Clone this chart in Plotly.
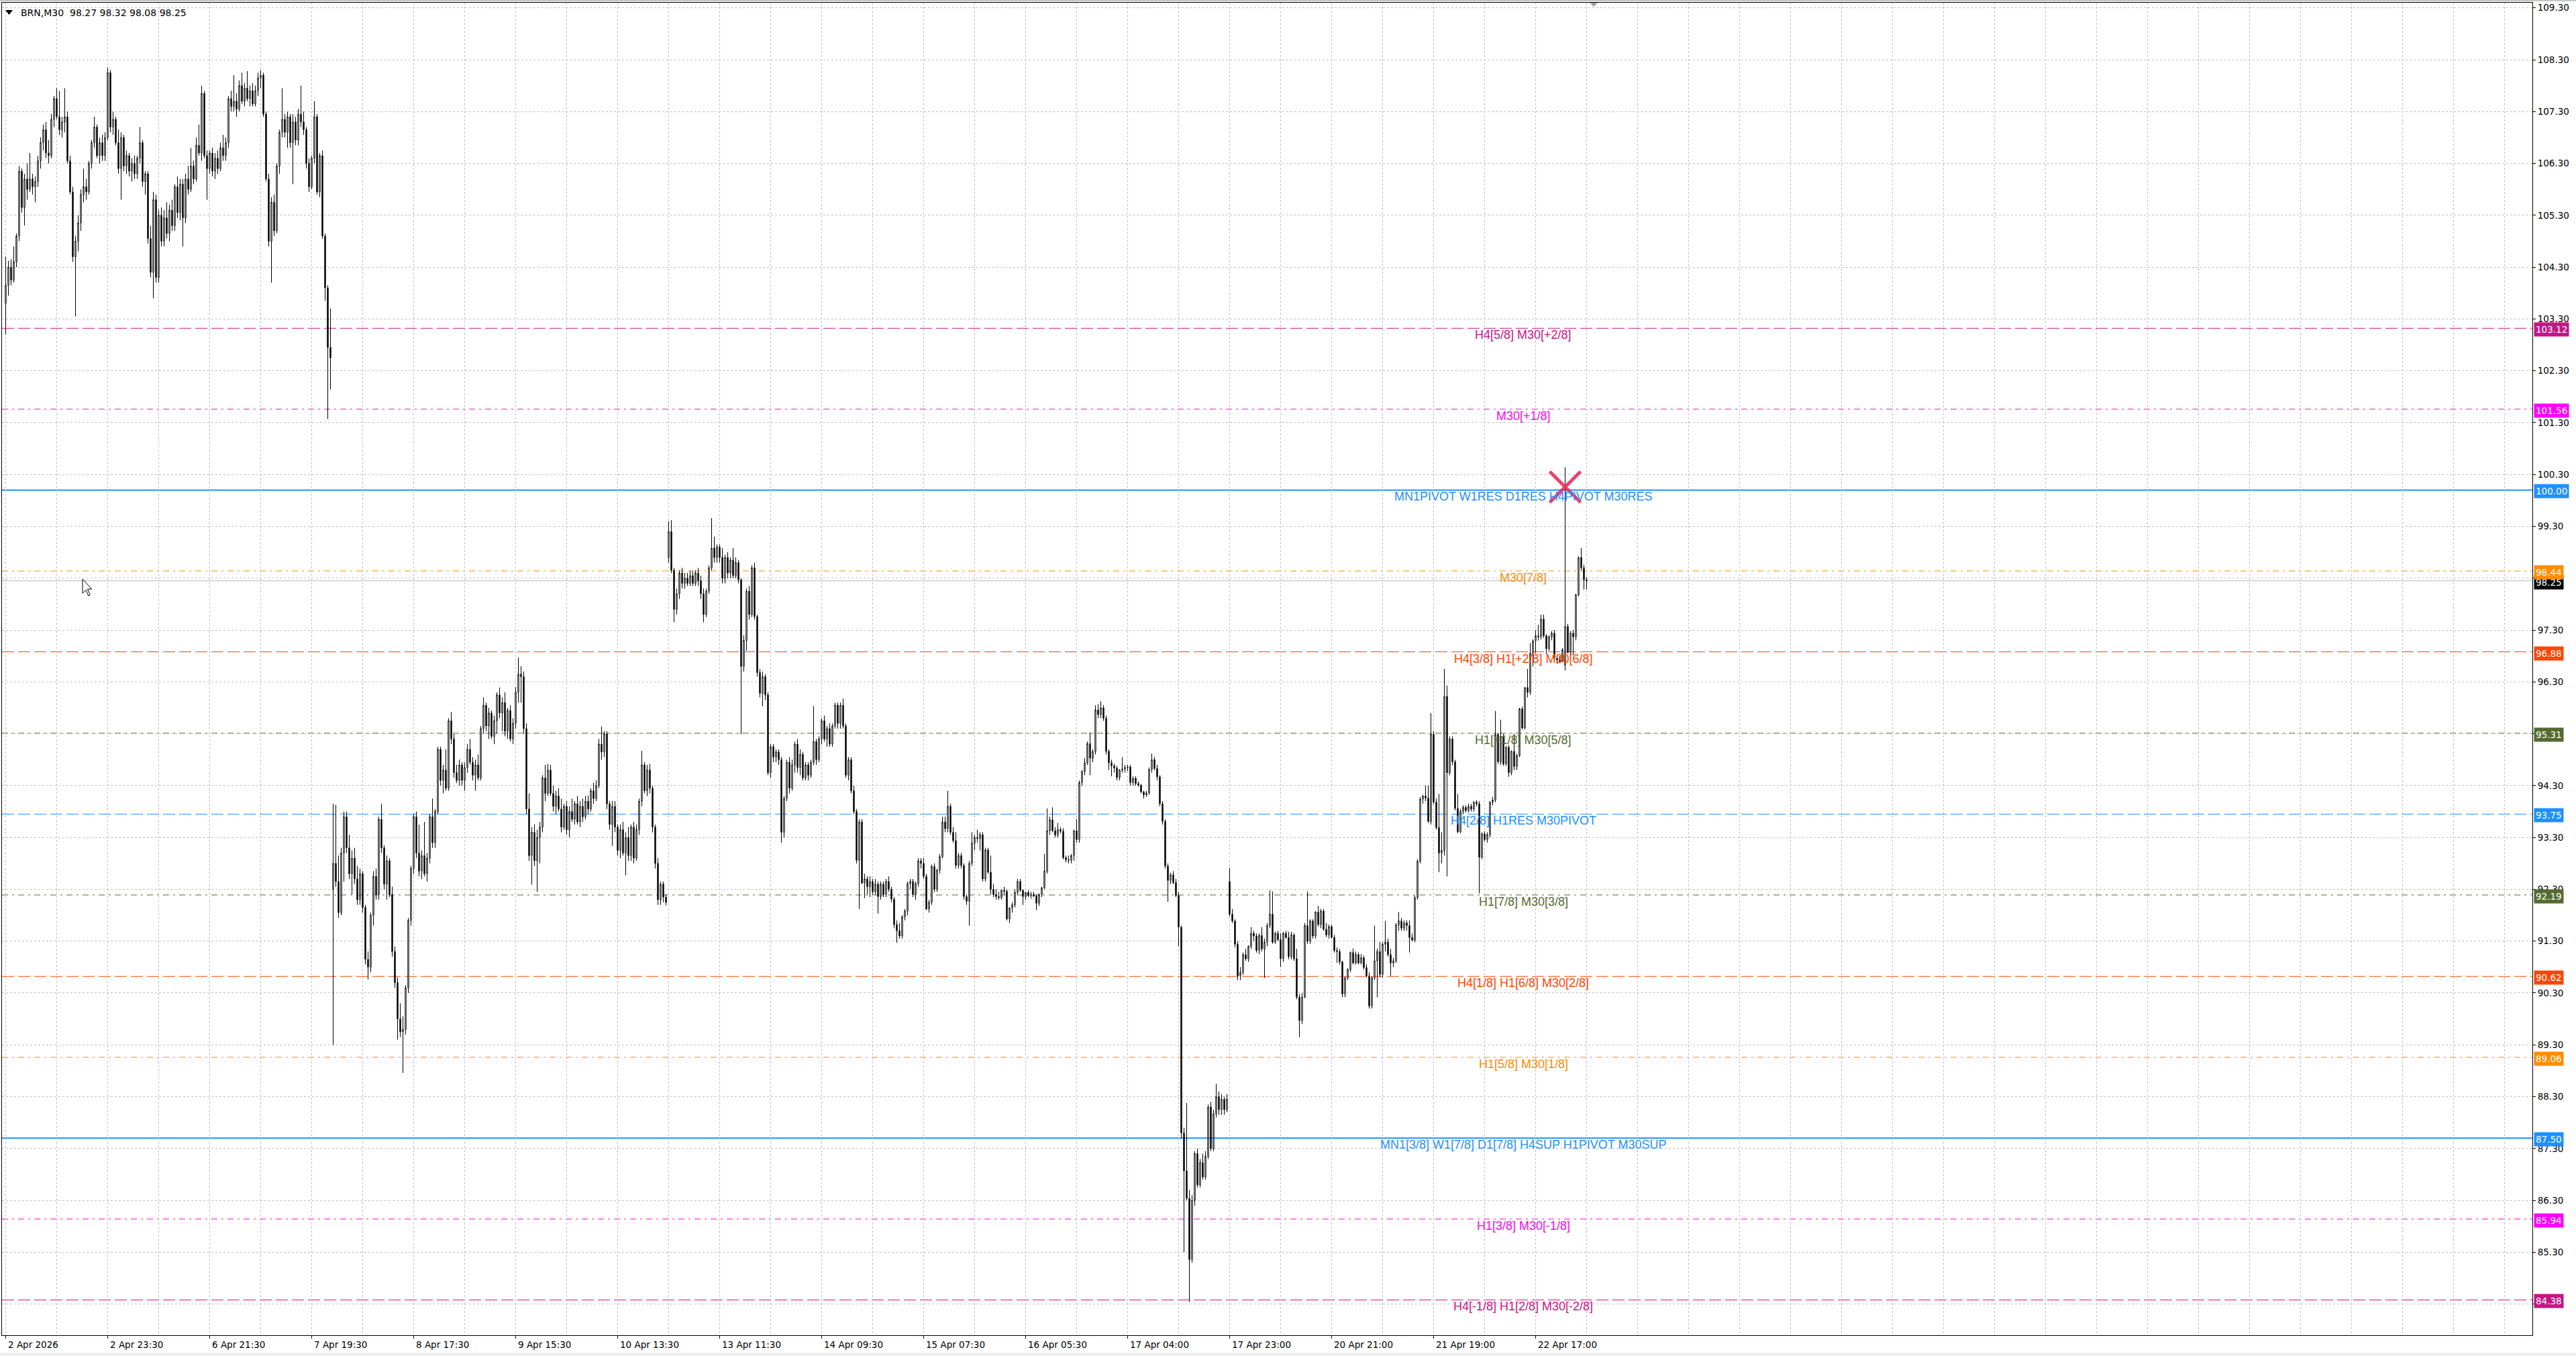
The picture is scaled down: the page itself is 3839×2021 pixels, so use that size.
import plotly.graph_objects as go

# ---------------------------------------------------------------- data
# BRN M30 candles, one entry per bar (MT4 draws bars back to back, no time gaps)
OPEN = [
    # 0
    103.60, 103.95, 104.30, 104.05, 104.40, 104.90, 106.15, 105.45, 106.00, 105.80,
    106.00, 105.85, 105.95, 106.35, 106.70, 106.95, 106.50, 106.45, 107.15, 107.55,
    107.20, 106.95, 107.10, 107.20, 106.35, 105.75, 104.50, 104.80, 105.15, 105.70,
    105.85, 105.75, 106.30, 106.70, 107.00, 106.45, 106.70, 106.45, 106.80, 108.05,
    107.00, 107.15, 106.70, 106.20, 106.80, 106.25, 106.45, 106.15, 106.30, 106.10,
    106.40, 106.70, 105.95, 106.10, 104.85, 104.20, 105.60, 104.10, 105.30, 104.80,
    105.25, 104.95, 105.40, 105.10, 105.85, 105.35, 105.90, 105.25, 106.00, 105.80,
    106.25, 106.00, 106.65, 106.50, 107.65, 106.45, 106.20, 106.50, 106.15, 106.40,
    106.20, 106.60, 106.45, 106.70, 107.55, 107.40, 107.50, 107.35, 107.80, 107.50,
    107.75, 107.55, 107.70, 107.45, 107.70, 107.95, 108.00, 107.25, 106.00, 104.80,
    105.55, 105.00, 106.25, 106.90, 107.15, 106.90, 107.20, 106.70, 107.10, 106.75,
    107.25, 107.10, 106.95, 106.30, 105.85, 106.40, 107.20, 105.75, 106.45, 104.90,
    103.90, 102.75,
    # 122
    92.30, 92.80, 92.45, 91.85, 93.00, 93.70, 93.10, 92.60,
    92.90, 92.50, 92.10, 92.60, 91.95, 90.95, 90.80, 91.80, 92.55, 92.20,
    93.65, 93.10, 92.40, 92.85, 92.20, 91.10, 90.50, 89.80, 89.55, 89.60,
    90.40, 91.70, 92.70, 93.70, 93.00, 92.65, 92.95, 92.60, 92.90, 93.70,
    93.20, 93.80, 95.00, 94.40, 94.60, 94.25, 95.55, 95.20, 94.55, 94.40,
    94.70, 94.40, 94.65, 95.00, 94.75, 94.50, 94.70, 94.45, 95.40, 95.85,
    95.45, 95.70, 95.25, 95.55, 96.05, 95.70, 95.90, 95.35, 95.75, 95.20,
    95.50, 96.10, 96.45, 96.40, 95.40, 93.85, 92.95, 93.40, 92.85, 93.30,
    93.50, 94.45, 94.15, 94.60, 94.15, 93.90, 94.10, 93.85, 93.50, 93.90,
    93.45, 93.80, 93.65, 93.95, 93.60, 93.90, 93.70, 94.00, 93.85, 94.20,
    94.05, 94.30, 95.10, 94.95, 95.30, 93.95, 93.55, 93.90, 93.50, 93.05,
    93.45, 93.00, 93.30, 92.95, 93.50, 92.90, 93.45, 94.00, 94.70, 94.20,
    94.60, 94.25, 93.50, 92.80, 92.10, 92.40, 92.15,
    # 247
    98.70, 99.20, 98.45,
    97.70, 98.00, 98.40, 98.20, 98.30, 98.20, 98.35, 98.20, 98.40, 98.25,
    98.00, 97.60, 98.05, 98.50, 98.88, 98.70, 98.90, 98.70, 98.30, 98.70,
    98.40, 98.65, 98.35, 98.60, 98.27, 96.60, 97.10, 98.05, 97.60, 98.50,
    97.56, 96.48, 96.08, 96.40, 96.05, 94.55, 95.05, 94.85, 94.95, 94.80,
    93.40, 94.05, 94.75, 94.25, 94.70, 95.10, 94.65, 94.90, 94.45, 94.70,
    94.50, 94.75, 95.15, 94.80, 95.20, 95.55, 95.20, 95.40, 95.10, 95.45,
    95.85, 95.50, 95.85, 95.45, 94.50, 94.80, 94.20, 93.80, 92.86, 93.60,
    92.42, 92.50, 92.35, 92.45, 92.25, 92.40, 92.16, 92.40, 92.20, 92.45,
    92.30, 92.11, 91.62, 91.50, 91.40, 91.77, 91.88, 92.41, 92.45, 92.20,
    92.41, 92.85, 92.80, 92.55, 91.92, 92.05, 92.74, 92.30, 92.67, 92.93,
    93.60, 93.47, 93.90, 93.40, 93.24, 92.76, 92.95, 92.76, 92.16, 92.07,
    92.80, 93.19, 93.30, 93.28, 93.35, 92.50, 93.06, 92.63, 92.30, 92.20,
    92.16, 92.14, 92.28, 92.26, 91.73, 91.94, 92.00, 92.24, 92.45, 92.28,
    92.16, 92.24, 92.18, 92.20, 92.17, 92.03, 92.20, 92.33, 92.65, 93.43,
    93.64, 93.43, 93.35, 93.45, 93.42, 92.91, 92.87, 92.86, 92.95, 93.43,
    93.26, 94.36, 94.57, 94.74, 95.11, 94.83, 94.96, 95.76, 95.67, 95.80,
    95.60, 94.96, 94.74, 94.68, 94.64, 94.46, 94.60, 94.62, 94.65, 94.66,
    94.36, 94.44, 94.34, 94.31, 94.18, 94.12, 94.16, 94.61, 94.80, 94.63,
    94.47, 93.95, 93.61, 92.75, 92.47, 92.58, 92.43, 92.18, 91.57, 87.60,
    86.87, 86.34, 85.16, 86.30, 87.20, 86.60, 87.03, 86.75, 87.15, 88.10,
    87.30, 87.97, 88.30, 88.05, 88.25, 88.05,
    # 456
    92.45, 91.82, 91.69, 91.24,
    90.63, 90.70, 91.04, 90.96, 91.20, 91.45, 91.40, 91.12, 91.41, 91.15,
    91.28, 91.60, 91.82, 91.28, 91.45, 91.33, 90.96, 91.45, 91.37, 91.00,
    91.42, 90.96, 90.22, 89.77, 90.22, 91.60, 91.30, 91.69, 91.40, 91.86,
    91.62, 91.88, 91.53, 91.42, 91.58, 91.37, 91.12, 91.10, 90.90, 90.28,
    90.59, 90.75, 91.08, 90.88, 91.04, 90.88, 90.98, 90.79, 90.63, 90.05,
    90.59, 90.92, 91.10, 90.66, 91.24, 91.28, 91.04, 90.88, 90.92, 91.61,
    91.69, 91.55, 91.65, 91.60, 91.37, 91.32, 92.14, 92.84, 94.04, 94.10,
    94.06, 93.61, 95.29, 93.98, 93.49, 93.00, 93.05, 96.02, 94.55, 95.20,
    94.76, 93.86, 93.41, 93.80, 93.88, 93.82, 93.90, 93.85, 93.98, 93.95,
    92.92, 93.37, 93.26, 93.35, 93.98, 94.02, 95.29, 94.76, 95.25, 94.72,
    95.04, 94.55, 94.96, 94.67, 94.88, 95.78, 95.41, 96.19, 96.10, 96.85,
    97.09, 97.19, 97.17, 97.51, 97.19, 96.94, 97.17, 97.24, 96.75, 96.72,
    96.70, 96.62, 97.37, 96.87, 97.24, 97.17, 97.98, 98.70, 98.50, 98.27,
]

HIGH = [
    # 0
    104.50, 104.42, 104.45, 104.70, 104.95, 106.25, 106.20, 106.10, 106.30, 106.50,
    106.10, 106.05, 106.45, 106.80, 107.05, 107.10, 106.75, 107.25, 107.60, 107.75,
    107.70, 107.20, 107.75, 107.30, 106.45, 105.85, 104.90, 105.30, 105.80, 106.20,
    106.00, 106.35, 106.75, 107.20, 107.05, 106.80, 106.85, 106.90, 108.15, 108.10,
    107.30, 107.20, 106.95, 106.90, 106.85, 106.55, 106.50, 106.40, 106.45, 106.45,
    107.00, 106.75, 106.15, 106.15, 105.10, 105.75, 105.70, 105.40, 105.45, 105.40,
    105.55, 105.50, 105.60, 105.90, 106.05, 106.00, 106.00, 106.10, 106.25, 106.60,
    106.35, 106.80, 107.05, 107.80, 107.70, 106.55, 106.55, 106.60, 106.50, 106.55,
    106.70, 106.85, 106.80, 107.60, 107.70, 108.00, 107.65, 107.90, 108.05, 107.85,
    108.08, 107.80, 107.85, 107.80, 108.05, 108.10, 108.05, 107.30, 106.10, 105.65,
    105.70, 106.30, 106.95, 107.75, 107.25, 107.30, 107.25, 107.25, 107.20, 107.35,
    107.80, 107.30, 107.00, 106.40, 106.45, 107.50, 107.25, 106.50, 106.55, 104.95,
    103.95, 103.50,
    # 122
    93.95, 93.93, 92.95, 93.10, 93.80, 93.80, 93.35, 93.05,
    93.10, 92.75, 92.70, 92.65, 92.00, 91.10, 91.85, 92.65, 92.70, 93.70,
    93.95, 93.15, 92.95, 92.90, 92.35, 91.20, 90.60, 90.10, 89.85, 90.45,
    91.75, 92.75, 93.75, 93.80, 93.55, 93.05, 93.60, 93.00, 93.75, 94.05,
    93.85, 95.05, 95.05, 94.70, 95.00, 95.60, 95.72, 95.30, 94.70, 94.80,
    94.75, 94.75, 95.10, 95.20, 94.85, 94.80, 94.90, 95.45, 96.00, 95.90,
    95.80, 95.75, 95.65, 96.10, 96.19, 96.00, 96.10, 95.80, 95.85, 95.60,
    96.20, 96.77, 96.60, 96.50, 95.50, 94.15, 93.50, 93.55, 93.45, 93.60,
    94.50, 94.70, 94.72, 94.70, 94.30, 94.20, 94.25, 94.05, 93.95, 94.00,
    93.90, 94.05, 94.00, 94.10, 94.00, 94.05, 94.10, 94.11, 94.25, 94.35,
    94.40, 95.20, 95.44, 95.35, 95.35, 94.00, 94.00, 94.00, 93.55, 93.55,
    93.60, 93.40, 93.50, 93.55, 93.60, 93.55, 94.05, 94.97, 94.75, 94.70,
    94.72, 94.30, 93.55, 92.90, 92.45, 92.45, 92.20,
    # 247
    99.40, 99.42, 98.50,
    98.10, 98.45, 98.50, 98.40, 98.40, 98.45, 98.45, 98.45, 98.50, 98.35,
    98.10, 98.10, 98.55, 99.46, 99.10, 98.95, 98.95, 98.88, 98.75, 98.80,
    98.70, 98.88, 98.70, 98.65, 98.30, 97.20, 98.10, 98.15, 98.55, 98.60,
    97.60, 96.55, 96.50, 96.45, 96.10, 95.10, 95.10, 95.00, 95.00, 94.85,
    94.10, 94.80, 94.85, 94.80, 95.15, 95.20, 95.00, 94.95, 94.75, 94.75,
    94.80, 95.83, 95.20, 95.25, 95.60, 95.65, 95.45, 95.50, 95.50, 95.90,
    95.90, 95.90, 95.98, 95.50, 94.85, 94.85, 94.30, 93.85, 93.65, 93.65,
    92.60, 92.55, 92.55, 92.50, 92.50, 92.45, 92.45, 92.45, 92.50, 92.55,
    92.35, 92.15, 91.70, 91.65, 91.80, 91.92, 92.45, 92.50, 92.50, 92.45,
    92.90, 92.90, 92.90, 92.60, 92.10, 92.78, 92.80, 92.70, 92.98, 93.70,
    93.70, 94.20, 93.95, 93.50, 93.40, 93.00, 93.00, 92.80, 92.20, 92.85,
    93.40, 93.35, 93.45, 93.40, 93.40, 93.10, 93.10, 92.95, 92.40, 92.30,
    92.25, 92.30, 92.35, 92.30, 91.95, 92.05, 92.30, 92.50, 92.50, 92.30,
    92.25, 92.28, 92.25, 92.25, 92.20, 92.22, 92.35, 92.98, 93.86, 93.70,
    93.88, 93.50, 93.58, 93.50, 93.48, 92.95, 92.95, 92.98, 93.45, 93.65,
    94.40, 94.60, 94.83, 95.15, 95.33, 95.00, 95.85, 95.87, 95.93, 95.85,
    95.65, 95.00, 94.80, 94.72, 94.68, 94.62, 94.85, 94.70, 94.70, 94.70,
    94.48, 94.48, 94.38, 94.33, 94.20, 94.20, 94.65, 94.92, 94.85, 94.70,
    94.50, 94.00, 93.65, 92.80, 92.62, 92.65, 92.50, 92.25, 91.60, 87.70,
    88.18, 86.50, 86.40, 87.25, 87.30, 87.10, 87.20, 87.25, 88.15, 88.20,
    88.05, 88.55, 88.40, 88.35, 88.30, 88.35,
    # 456
    92.71, 91.92, 91.72, 91.30,
    90.80, 91.08, 91.15, 91.22, 91.57, 91.50, 91.45, 91.45, 91.57, 91.35,
    91.65, 92.28, 92.26, 91.48, 91.50, 91.45, 91.48, 91.50, 91.48, 91.48,
    91.45, 91.15, 90.28, 90.30, 91.65, 92.26, 91.72, 91.72, 91.88, 91.98,
    91.92, 91.92, 91.65, 91.62, 91.62, 91.42, 91.18, 91.15, 90.92, 90.62,
    90.78, 91.10, 91.16, 91.10, 91.08, 91.05, 91.02, 90.85, 90.70, 90.62,
    91.60, 91.16, 91.28, 91.28, 91.69, 91.35, 91.15, 90.98, 91.65, 91.86,
    91.75, 91.70, 91.70, 91.70, 91.45, 92.18, 92.88, 94.08, 94.12, 94.30,
    94.30, 95.70, 95.35, 94.05, 94.14, 93.40, 96.55, 96.23, 95.25, 95.25,
    94.80, 94.14, 93.85, 93.92, 93.92, 93.95, 93.95, 94.00, 94.02, 94.00,
    93.40, 93.42, 93.40, 94.00, 94.08, 95.74, 95.32, 95.57, 95.30, 95.06,
    95.08, 94.98, 95.30, 94.92, 95.80, 95.82, 96.20, 96.55, 97.05, 97.12,
    97.30, 97.40, 97.60, 97.60, 97.22, 97.20, 97.28, 97.30, 96.80, 96.80,
    96.95, 100.44, 97.42, 97.28, 97.30, 98.00, 98.72, 98.88, 98.56, 98.32,
]

LOW = [
    # 0
    103.00, 103.75, 103.95, 104.00, 104.30, 104.80, 105.35, 105.10, 105.60, 105.75,
    105.70, 105.55, 105.85, 106.20, 106.55, 106.40, 106.30, 106.40, 107.00, 107.15,
    106.85, 106.80, 106.90, 106.30, 105.70, 104.40, 103.35, 104.60, 105.00, 105.55,
    105.60, 105.70, 106.20, 106.60, 106.40, 106.30, 106.35, 106.35, 106.75, 106.90,
    106.85, 106.65, 106.10, 105.60, 106.15, 106.10, 106.05, 105.95, 106.00, 106.00,
    106.30, 105.85, 105.70, 104.75, 104.10, 103.70, 104.00, 104.00, 104.70, 104.70,
    104.85, 104.80, 105.00, 105.00, 105.25, 105.20, 104.70, 105.15, 105.70, 105.75,
    105.90, 105.95, 106.45, 106.35, 106.40, 105.60, 106.10, 106.05, 106.00, 106.10,
    106.15, 106.35, 106.35, 106.60, 107.30, 107.30, 107.20, 107.30, 107.45, 107.40,
    107.50, 107.40, 107.40, 107.40, 107.60, 107.75, 107.20, 105.95, 104.70, 104.00,
    104.90, 104.95, 106.10, 106.80, 106.80, 106.60, 106.60, 105.90, 106.65, 106.65,
    107.00, 106.85, 106.20, 105.75, 105.80, 106.30, 105.70, 105.65, 104.85, 103.65,
    101.37, 101.94,
    # 122
    89.30, 92.35, 91.75, 91.80, 92.45, 93.00, 92.50, 92.20,
    92.40, 92.00, 92.00, 91.85, 90.85, 90.56, 90.70, 91.60, 92.10, 92.10,
    93.00, 92.30, 92.10, 92.15, 91.00, 90.40, 89.40, 89.45, 88.76, 89.50,
    90.30, 91.60, 92.60, 92.90, 92.55, 92.50, 92.55, 92.45, 92.80, 93.10,
    93.10, 93.75, 94.30, 94.15, 94.20, 94.20, 95.10, 94.45, 94.35, 94.30,
    94.30, 94.20, 94.55, 94.70, 94.40, 94.20, 94.40, 94.40, 95.30, 95.35,
    95.20, 95.20, 95.10, 95.30, 95.60, 95.35, 95.25, 95.20, 95.15, 95.10,
    95.40, 95.90, 95.90, 95.30, 93.75, 92.85, 92.39, 92.75, 92.25, 92.80,
    93.40, 94.00, 94.10, 94.10, 93.80, 93.75, 93.80, 93.40, 93.45, 93.35,
    93.30, 93.60, 93.55, 93.55, 93.50, 93.60, 93.65, 93.75, 93.80, 93.95,
    94.00, 94.25, 94.80, 94.85, 93.85, 93.45, 93.14, 93.40, 92.95, 92.90,
    92.95, 92.57, 92.85, 92.85, 92.80, 92.85, 93.35, 93.90, 94.15, 94.10,
    94.15, 93.40, 92.70, 92.00, 92.00, 92.05, 91.99,
    # 247
    98.60, 98.40, 97.45,
    97.60, 97.90, 98.10, 98.10, 98.15, 98.15, 98.15, 98.15, 98.15, 97.90,
    97.45, 97.55, 98.00, 98.45, 98.60, 98.60, 98.60, 98.20, 98.20, 98.30,
    98.30, 98.30, 98.30, 98.20, 95.29, 96.50, 96.90, 97.50, 97.55, 97.50,
    96.40, 96.00, 95.83, 95.95, 94.50, 94.45, 94.75, 94.75, 94.70, 93.20,
    93.30, 94.00, 94.15, 94.20, 94.55, 94.55, 94.50, 94.40, 94.40, 94.40,
    94.45, 94.70, 94.70, 94.75, 95.10, 95.15, 95.05, 95.05, 95.05, 95.40,
    95.40, 95.40, 95.40, 94.45, 94.40, 94.15, 93.75, 92.80, 91.92, 92.40,
    92.13, 92.20, 92.15, 92.20, 92.20, 91.83, 92.10, 92.15, 92.15, 92.25,
    92.05, 91.55, 91.27, 91.35, 91.35, 91.70, 91.80, 92.30, 92.15, 92.10,
    92.35, 92.70, 92.50, 91.90, 91.85, 92.00, 92.25, 92.25, 92.60, 92.90,
    93.40, 93.40, 93.35, 93.20, 92.70, 92.70, 92.70, 92.10, 92.00, 91.60,
    92.75, 93.05, 93.20, 93.05, 92.45, 92.45, 92.60, 92.20, 92.15, 92.10,
    92.10, 92.10, 92.20, 91.70, 91.65, 91.85, 91.95, 92.20, 92.25, 92.00,
    92.10, 92.15, 92.12, 92.15, 91.90, 91.98, 92.15, 92.30, 92.60, 93.35,
    93.40, 93.30, 93.30, 93.38, 92.88, 92.82, 92.80, 92.80, 92.85, 93.20,
    93.20, 94.30, 94.50, 94.70, 94.50, 94.75, 94.90, 95.60, 95.60, 95.55,
    94.90, 94.60, 94.48, 94.55, 94.40, 94.40, 94.55, 94.55, 94.58, 94.30,
    94.30, 94.30, 94.28, 94.15, 94.05, 94.08, 94.12, 94.55, 94.60, 94.40,
    93.90, 93.55, 92.70, 92.06, 92.40, 92.40, 92.15, 91.20, 87.50, 85.30,
    86.30, 84.34, 85.10, 86.20, 86.55, 86.55, 86.70, 86.70, 87.10, 87.25,
    87.25, 87.90, 87.95, 87.95, 87.95, 88.00,
    # 456
    91.78, 91.65, 91.18, 90.55,
    90.55, 90.65, 90.92, 90.90, 91.15, 91.30, 91.08, 91.05, 91.10, 90.59,
    91.20, 91.55, 91.25, 91.25, 91.30, 90.80, 90.90, 91.35, 90.95, 90.95,
    90.92, 90.18, 89.45, 89.70, 90.20, 91.25, 91.25, 91.35, 91.35, 91.58,
    91.55, 91.50, 91.38, 91.35, 91.35, 91.08, 90.88, 90.85, 90.22, 90.22,
    90.55, 90.70, 90.85, 90.85, 90.85, 90.85, 90.75, 90.60, 90.00, 90.00,
    90.55, 90.22, 90.60, 90.60, 91.10, 91.00, 90.63, 90.80, 90.88, 91.50,
    91.50, 91.50, 91.50, 91.08, 91.30, 91.28, 92.10, 92.80, 93.95, 94.00,
    93.58, 93.55, 93.95, 93.45, 92.63, 92.80, 92.95, 92.55, 94.50, 94.70,
    93.82, 93.38, 93.38, 93.75, 93.78, 93.78, 93.80, 93.80, 93.90, 92.22,
    92.88, 93.22, 93.20, 93.30, 93.92, 93.98, 94.72, 94.70, 94.68, 94.68,
    94.47, 94.50, 94.60, 94.60, 94.85, 95.38, 95.38, 96.00, 96.05, 96.60,
    96.85, 97.10, 97.12, 97.15, 96.84, 96.90, 97.10, 96.70, 96.65, 96.68,
    96.68, 96.52, 96.85, 96.82, 96.82, 97.10, 97.95, 98.45, 98.08, 98.08,
]

CLOSE = [
    # 0
    103.95, 104.30, 104.05, 104.40, 104.90, 106.15, 105.45, 106.00, 105.80, 106.00,
    105.85, 105.95, 106.35, 106.70, 106.95, 106.50, 106.45, 107.15, 107.55, 107.20,
    106.95, 107.10, 107.20, 106.35, 105.75, 104.50, 104.80, 105.15, 105.70, 105.85,
    105.75, 106.30, 106.70, 107.00, 106.45, 106.70, 106.45, 106.80, 108.05, 107.00,
    107.15, 106.70, 106.20, 106.80, 106.25, 106.45, 106.15, 106.30, 106.10, 106.40,
    106.70, 105.95, 106.10, 104.85, 104.20, 105.60, 104.10, 105.30, 104.80, 105.25,
    104.95, 105.40, 105.10, 105.85, 105.35, 105.90, 105.25, 106.00, 105.80, 106.25,
    106.00, 106.65, 106.50, 107.65, 106.45, 106.20, 106.50, 106.15, 106.40, 106.20,
    106.60, 106.45, 106.70, 107.55, 107.40, 107.50, 107.35, 107.80, 107.50, 107.75,
    107.55, 107.70, 107.45, 107.70, 107.95, 108.00, 107.25, 106.00, 104.80, 105.55,
    105.00, 106.25, 106.90, 107.15, 106.90, 107.20, 106.70, 107.10, 106.75, 107.25,
    107.10, 106.95, 106.30, 105.85, 106.40, 107.20, 105.75, 106.45, 104.90, 103.90,
    102.75, 102.55,
    # 122
    92.80, 92.45, 91.85, 93.00, 93.70, 93.10, 92.60, 92.90,
    92.50, 92.10, 92.60, 91.95, 90.95, 90.80, 91.80, 92.55, 92.20, 93.65,
    93.10, 92.40, 92.85, 92.20, 91.10, 90.50, 89.80, 89.55, 89.60, 90.40,
    91.70, 92.70, 93.70, 93.00, 92.65, 92.95, 92.60, 92.90, 93.70, 93.20,
    93.80, 95.00, 94.40, 94.60, 94.25, 95.55, 95.20, 94.55, 94.40, 94.70,
    94.40, 94.65, 95.00, 94.75, 94.50, 94.70, 94.45, 95.40, 95.85, 95.45,
    95.70, 95.25, 95.55, 96.05, 95.70, 95.90, 95.35, 95.75, 95.20, 95.50,
    96.10, 96.45, 96.40, 95.40, 93.85, 92.95, 93.40, 92.85, 93.30, 93.50,
    94.45, 94.15, 94.60, 94.15, 93.90, 94.10, 93.85, 93.50, 93.90, 93.45,
    93.80, 93.65, 93.95, 93.60, 93.90, 93.70, 94.00, 93.85, 94.20, 94.05,
    94.30, 95.10, 94.95, 95.30, 93.95, 93.55, 93.90, 93.50, 93.05, 93.45,
    93.00, 93.30, 92.95, 93.50, 92.90, 93.45, 94.00, 94.70, 94.20, 94.60,
    94.25, 93.50, 92.80, 92.10, 92.40, 92.15, 92.05,
    # 247
    99.20, 98.45, 97.70,
    98.00, 98.40, 98.20, 98.30, 98.20, 98.35, 98.20, 98.40, 98.25, 98.00,
    97.60, 98.05, 98.50, 98.88, 98.70, 98.90, 98.70, 98.30, 98.70, 98.40,
    98.65, 98.35, 98.60, 98.27, 96.60, 97.10, 98.05, 97.60, 98.50, 97.56,
    96.48, 96.08, 96.40, 96.05, 94.55, 95.05, 94.85, 94.95, 94.80, 93.40,
    94.05, 94.75, 94.25, 94.70, 95.10, 94.65, 94.90, 94.45, 94.70, 94.50,
    94.75, 95.15, 94.80, 95.20, 95.55, 95.20, 95.40, 95.10, 95.45, 95.85,
    95.50, 95.85, 95.45, 94.50, 94.80, 94.20, 93.80, 92.86, 93.60, 92.42,
    92.50, 92.35, 92.45, 92.25, 92.40, 92.16, 92.40, 92.20, 92.45, 92.30,
    92.11, 91.62, 91.50, 91.40, 91.77, 91.88, 92.41, 92.45, 92.20, 92.41,
    92.85, 92.80, 92.55, 91.92, 92.05, 92.74, 92.30, 92.67, 92.93, 93.60,
    93.47, 93.90, 93.40, 93.24, 92.76, 92.95, 92.76, 92.16, 92.07, 92.80,
    93.19, 93.30, 93.28, 93.35, 92.50, 93.06, 92.63, 92.30, 92.20, 92.16,
    92.14, 92.28, 92.26, 91.73, 91.94, 92.00, 92.24, 92.45, 92.28, 92.16,
    92.24, 92.18, 92.20, 92.17, 92.03, 92.20, 92.33, 92.65, 93.43, 93.64,
    93.43, 93.35, 93.45, 93.42, 92.91, 92.87, 92.86, 92.95, 93.43, 93.26,
    94.36, 94.57, 94.74, 95.11, 94.83, 94.96, 95.76, 95.67, 95.80, 95.60,
    94.96, 94.74, 94.68, 94.64, 94.46, 94.60, 94.62, 94.65, 94.66, 94.36,
    94.44, 94.34, 94.31, 94.18, 94.12, 94.16, 94.61, 94.80, 94.63, 94.47,
    93.95, 93.61, 92.75, 92.47, 92.58, 92.43, 92.18, 91.57, 87.60, 86.87,
    86.34, 85.16, 86.30, 87.20, 86.60, 87.03, 86.75, 87.15, 88.10, 87.30,
    87.97, 88.30, 88.05, 88.25, 88.05, 88.25,
    # 456
    91.82, 91.69, 91.24, 90.63,
    90.70, 91.04, 90.96, 91.20, 91.45, 91.40, 91.12, 91.41, 91.15, 91.28,
    91.60, 91.82, 91.28, 91.45, 91.33, 90.96, 91.45, 91.37, 91.00, 91.42,
    90.96, 90.22, 89.77, 90.22, 91.60, 91.30, 91.69, 91.40, 91.86, 91.62,
    91.88, 91.53, 91.42, 91.58, 91.37, 91.12, 91.10, 90.90, 90.28, 90.59,
    90.75, 91.08, 90.88, 91.04, 90.88, 90.98, 90.79, 90.63, 90.05, 90.59,
    90.92, 91.10, 90.66, 91.24, 91.28, 91.04, 90.88, 90.92, 91.61, 91.69,
    91.55, 91.65, 91.60, 91.37, 91.32, 92.14, 92.84, 94.04, 94.10, 94.06,
    93.61, 95.29, 93.98, 93.49, 93.00, 93.05, 96.02, 94.55, 95.20, 94.76,
    93.86, 93.41, 93.80, 93.88, 93.82, 93.90, 93.85, 93.98, 93.95, 92.92,
    93.37, 93.26, 93.35, 93.98, 94.02, 95.29, 94.76, 95.25, 94.72, 95.04,
    94.55, 94.96, 94.67, 94.88, 95.78, 95.41, 96.19, 96.10, 96.85, 97.09,
    97.19, 97.17, 97.51, 97.19, 96.94, 97.17, 97.24, 96.75, 96.72, 96.70,
    96.92, 97.37, 96.87, 97.24, 97.17, 97.98, 98.70, 98.50, 98.27, 98.25,
]

assert len(OPEN) == len(HIGH) == len(LOW) == len(CLOSE) == 590
BAR = list(range(len(CLOSE)))

# time scale labels and the bar they sit on
TIME_LABELS = ["2 Apr 2026", "2 Apr 23:30", "6 Apr 21:30", "7 Apr 19:30",
               "8 Apr 17:30", "9 Apr 15:30", "10 Apr 13:30", "13 Apr 11:30",
               "14 Apr 09:30", "15 Apr 07:30", "16 Apr 05:30", "17 Apr 04:00",
               "17 Apr 23:00", "20 Apr 21:00", "21 Apr 19:00", "22 Apr 17:00"]
TIME_LABEL_BAR = [0, 38, 76, 114, 152, 190, 228, 266,
                  304, 342, 380, 418, 456, 494, 532, 570]

# murrey / pivot levels drawn by the indicator
LEVEL_PRICE = [103.12, 101.56, 100.00, 98.44, 96.88, 95.31, 93.75,
               92.19, 90.62, 89.06, 87.50, 85.94, 84.38]
LEVEL_TEXT = ["H4[5/8] M30[+2/8]",
              "M30[+1/8]",
              "MN1PIVOT W1RES D1RES H4PIVOT M30RES",
              "M30[7/8]",
              "H4[3/8] H1[+2/8] M30[6/8]",
              "H1[+1/8] M30[5/8]",
              "H4[2/8] H1RES M30PIVOT",
              "H1[7/8] M30[3/8]",
              "H4[1/8] H1[6/8] M30[2/8]",
              "H1[5/8] M30[1/8]",
              "MN1[3/8] W1[7/8] D1[7/8] H4SUP H1PIVOT M30SUP",
              "H1[3/8] M30[-1/8]",
              "H4[-1/8] H1[2/8] M30[-2/8]"]

LAST_PRICE = 98.25
SYMBOL_INFO = "BRN,M30  98.27 98.32 98.08 98.25"
MARK_BAR = 581
MARK_PRICE = 100.06

# ---------------------------------------------------------------- style
VIOLET, MAGENTA, BLUE = "#C71585", "#FF00FF", "#1E90FF"
ORANGE, REDORANGE, OLIVE = "#FF8C00", "#FF4500", "#556B2F"
DASH, DASHDOT = "18px,6px", "9px,6px,3px,6px"
LEVEL_STYLE = [(VIOLET, DASH, 1), (MAGENTA, DASHDOT, 1), (BLUE, "solid", 2),
               (ORANGE, DASHDOT, 1), (REDORANGE, DASH, 1), (OLIVE, DASHDOT, 1),
               (BLUE, DASH, 1), (OLIVE, DASHDOT, 1), (REDORANGE, DASH, 1),
               (ORANGE, DASHDOT, 1), (BLUE, "solid", 2), (MAGENTA, DASHDOT, 1),
               (VIOLET, DASH, 1)]

AXFONT = "DejaVu Sans"
TXFONT = "Liberation Sans, Arial, sans-serif"
GRID = "#C0C0C0"

W, H = 3839, 2021
ML, MR, MT, MB = 3, 65, 4, 31
PW, PH = W - ML - MR, H - MT - MB
# 4 px per bar, bar centres on half pixels so 1px wicks stay crisp
PX_PER_BAR = 4
X0 = -1.375
X1 = X0 + PW / PX_PER_BAR
Y0, Y1 = 83.70, 109.40
LABEL_PX = 2270          # figure x where the level captions are centred


def paper(x, y):
    """figure pixel -> paper coords"""
    return (x - ML) / PW, (H - MB - y) / PH


def poly(points):
    pts = [paper(x, y) for x, y in points]
    return "M " + " L ".join(f"{a:.6f},{b:.6f}" for a, b in pts) + " Z"


fig = go.Figure()

fig.add_trace(go.Candlestick(
    x=BAR, open=OPEN, high=HIGH, low=LOW, close=CLOSE,
    increasing=dict(line=dict(color="black", width=1), fillcolor="white"),
    decreasing=dict(line=dict(color="black", width=1), fillcolor="black"),
    whiskerwidth=0, showlegend=False, hoverinfo="skip",
))

# the red cross object on the spike bar
fig.add_trace(go.Scatter(
    x=[MARK_BAR], y=[MARK_PRICE], mode="markers", showlegend=False, hoverinfo="skip",
    marker=dict(symbol="x-thin", size=46,
                line=dict(width=5, color="rgba(232,40,90,0.88)")),
))

shapes = []
# current price line
shapes.append(dict(type="line", xref="paper", x0=0, x1=1, yref="y",
                   y0=LAST_PRICE, y1=LAST_PRICE, layer="below",
                   line=dict(color="#B8B8B8", width=1)))
for p, (c, d, w) in zip(LEVEL_PRICE, LEVEL_STYLE):
    shapes.append(dict(type="line", xref="paper", x0=0, x1=1, yref="y",
                       y0=p, y1=p, layer="below",
                       line=dict(color=c, width=w, dash=d)))
# small ticks under the time labels
for b in TIME_LABEL_BAR:
    shapes.append(dict(type="line", xref="x", x0=b, x1=b, yref="paper",
                       y0=0, y1=-5 / PH, line=dict(color="black", width=1)))
# chart-shift marker at the top
shapes.append(dict(type="path", xref="paper", yref="paper",
                   path=poly([(2369, 4), (2381, 4), (2375, 10)]),
                   fillcolor="#A0A0A0", line=dict(width=0)))
# mouse pointer
s = 1.25
cur = [(0, 0), (0, 17), (4, 13), (7, 20), (9, 19), (6, 12), (11, 12)]
shapes.append(dict(type="path", xref="paper", yref="paper",
                   path=poly([(123 + s * a, 863 + s * b) for a, b in cur]),
                   fillcolor="white", line=dict(color="black", width=1)))
# window strips
x_a, y_a = paper(0, 2016)
x_b, y_b = paper(W, H)
shapes.append(dict(type="rect", xref="paper", yref="paper", x0=x_a, x1=x_b,
                   y0=y_b, y1=y_a, fillcolor="#F0F0F0", line=dict(width=0)))
x_a, y_a = paper(0, 0)
x_b, y_b = paper(W, 2)
shapes.append(dict(type="rect", xref="paper", yref="paper", x0=x_a, x1=x_b,
                   y0=y_b, y1=y_a, fillcolor="#C8C8C8", line=dict(width=0)))

ann = []
# level captions
x_cap, _ = paper(LABEL_PX, 0)
for p, t, (c, d, w) in zip(LEVEL_PRICE, LEVEL_TEXT, LEVEL_STYLE):
    ann.append(dict(x=x_cap, xref="paper", y=p, yref="y", text=t, showarrow=False,
                    xanchor="center", yanchor="middle", yshift=-10,
                    font=dict(family=TXFONT, size=18, color=c)))
# price tags on the scale (last price first so the level tag overlays it)
tags = [(LAST_PRICE, "black")] + [(p, st[0]) for p, st in zip(LEVEL_PRICE, LEVEL_STYLE)]
for p, c in tags:
    ann.append(dict(x=1, xref="paper", xshift=2, y=p, yref="y", yshift=-2,
                    text=f"{p:.2f}", showarrow=False, xanchor="left", yanchor="middle",
                    bgcolor=c, borderpad=2,
                    font=dict(family=AXFONT, size=13.5, color="white")))
# time labels (left aligned on their bar)
_, y_lab = paper(0, 2004)
for b, t in zip(TIME_LABEL_BAR, TIME_LABELS):
    ann.append(dict(x=b, xref="x", xshift=1, y=y_lab, yref="paper", text=t,
                    showarrow=False, xanchor="left", yanchor="middle",
                    font=dict(family=AXFONT, size=13.5, color="black")))
# symbol header
x_h, y_h = paper(29, 19)
ann.append(dict(x=x_h, y=y_h, xref="paper", yref="paper", text=SYMBOL_INFO,
                showarrow=False, xanchor="left", yanchor="middle",
                font=dict(family=AXFONT, size=14, color="black")))
shapes.append(dict(type="path", xref="paper", yref="paper",
                   path=poly([(8, 15), (19, 15), (13.5, 22)]),
                   fillcolor="black", line=dict(width=0)))

fig.update_layout(
    width=W, height=H, autosize=False,
    margin=dict(l=ML, r=MR, t=MT, b=MB, pad=0),
    paper_bgcolor="white", plot_bgcolor="white",
    font=dict(family=AXFONT, size=13.5, color="black"),
    showlegend=False, boxgap=0.5,
    shapes=shapes, annotations=ann,
    xaxis=dict(range=[X0, X1], tickvals=list(range(0, int(X1) + 1, 19)),
               showticklabels=False, ticks="", showgrid=True, gridcolor=GRID,
               griddash="dot", gridwidth=1, zeroline=False, showline=True,
               linecolor="black", linewidth=1, mirror=True, fixedrange=True,
               rangeslider=dict(visible=False)),
    yaxis=dict(range=[Y0, Y1], side="right", tick0=0.30, dtick=1.0,
               tickformat=".2f", ticks="outside", ticklen=4, tickcolor="black",
               tickfont=dict(family=AXFONT, size=13.5, color="black"),
               showgrid=True, gridcolor=GRID, griddash="dot", gridwidth=1,
               zeroline=False, showline=True, linecolor="black", linewidth=1,
               mirror=True, fixedrange=True),
)

fig.write_html("out.html", config={"displayModeBar": False},
               post_script="document.body.style.margin='0';")
